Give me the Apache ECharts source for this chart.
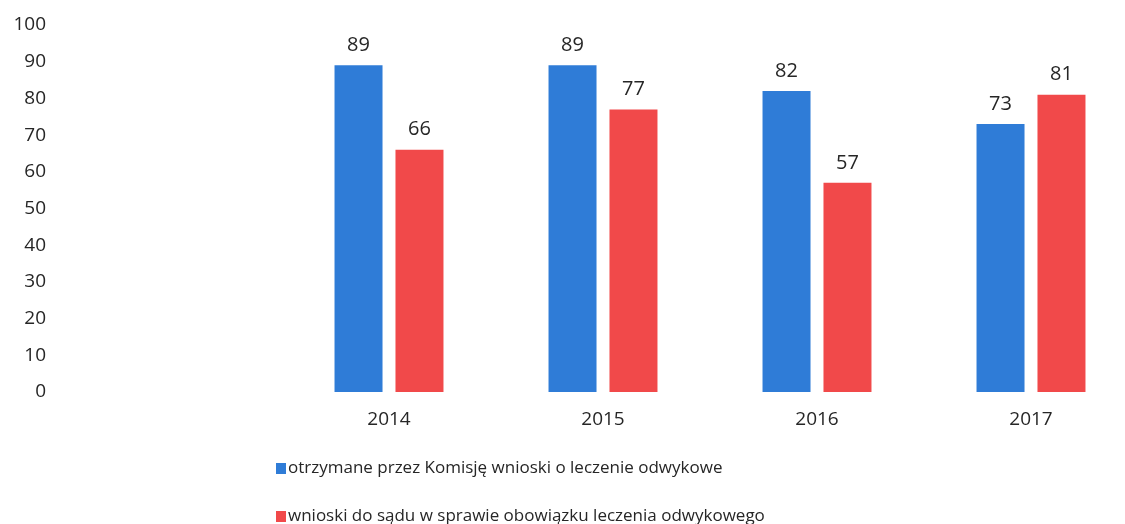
<!DOCTYPE html>
<html>
<head>
<meta charset="utf-8">
<script src="https://cdn.jsdelivr.net/npm/echarts@6/dist/echarts.min.js"></script>
<style>
  html, body { margin: 0; padding: 0; background: #fff; overflow: hidden; }
  #chart { width: 1145px; height: 524px; }
</style>
</head>
<body>
<div id="chart"></div>
<script>
const years = ['2014', '2015', '2016', '2017'];
const receivedRequests = [89, 89, 82, 73];
const courtRequests = [66, 77, 57, 81];
const seriesNames = [
  'otrzymane przez Komisję wnioski o leczenie odwykowe',
  'wnioski do sądu w sprawie obowiązku leczenia odwykowego'
];

const chart = echarts.init(document.getElementById('chart'));
const font = '"Open Sans", sans-serif';
const textColor = '#262626';

const labelStyle = {
  show: true,
  position: 'top',
  distance: 10,
  color: textColor,
  fontSize: 20,
  fontFamily: font
};

const legendBase = {
  left: 271,
  itemWidth: 10,
  itemHeight: 11,
  icon: 'rect',
  textStyle: { color: textColor, fontSize: 17, fontFamily: font, padding: [0, 0, 0, -3] }
};

chart.setOption({
  animation: false,
  grid: { left: 282, top: 25, bottom: 132, width: 856 },
  legend: [
    Object.assign({ top: 455, data: [seriesNames[0]] }, legendBase),
    Object.assign({ top: 503, data: [seriesNames[1]] }, legendBase)
  ],
  xAxis: {
    type: 'category',
    data: years,
    axisLine: { show: false },
    axisTick: { show: false },
    axisLabel: { color: textColor, fontSize: 19, fontFamily: font, margin: 18 }
  },
  yAxis: {
    type: 'value',
    min: 0,
    max: 100,
    interval: 10,
    axisLine: { show: false },
    axisTick: { show: false },
    splitLine: { show: false },
    axisLabel: { color: textColor, fontSize: 19, fontFamily: font, margin: 236 }
  },
  series: [
    {
      name: seriesNames[0],
      type: 'bar',
      data: receivedRequests,
      barWidth: 48,
      barGap: '27%',
      itemStyle: { color: '#2f7cd7' },
      label: labelStyle
    },
    {
      name: seriesNames[1],
      type: 'bar',
      data: courtRequests,
      barWidth: 48,
      barGap: '27%',
      itemStyle: { color: '#f1494a' },
      label: labelStyle
    }
  ]
});
</script>
</body>
</html>
